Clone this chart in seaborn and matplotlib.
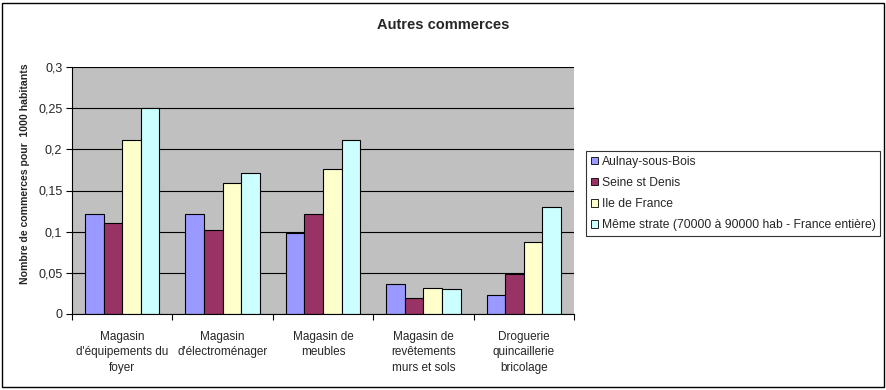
import pandas as pd
import numpy as np
import matplotlib
matplotlib.use('Agg')
import matplotlib.pyplot as plt
from matplotlib.patches import Rectangle
from matplotlib.ticker import FuncFormatter, FixedLocator
import seaborn as sns

# Data
categories = ["Magasin\nd'équipements du\nfoyer", "Magasin\nd'électroménager",
              "Magasin de\nmeubles", "Magasin de\nrevêtements\nmurs et sols",
              "Droguerie\nquincaillerie\nbricolage"]
series = ["Aulnay-sous-Bois", "Seine st Denis", "Ile de France",
          "Même strate (70000 à 90000 hab - France entière)"]
aulnay = [0.122, 0.122, 0.098, 0.036, 0.023]
seine = [0.110, 0.102, 0.122, 0.020, 0.049]
idf = [0.211, 0.159, 0.176, 0.031, 0.087]
strate = [0.250, 0.171, 0.211, 0.030, 0.130]
colors = ['#9999FF', '#993366', '#FFFFCC', '#CCFFFF']

rows = []
for name, vals in zip(series, [aulnay, seine, idf, strate]):
    for cat, v in zip(categories, vals):
        rows.append({'cat': cat, 'serie': name, 'val': v})
df = pd.DataFrame(rows)

sns.set_style('white')
plt.rcParams['font.family'] = ['Liberation Sans', 'DejaVu Sans']

fig = plt.figure(figsize=(8.87, 3.9), dpi=100)
ax = fig.add_axes([72/887, 1-314/390, (574-72)/887, (314-67)/390])

sns.barplot(data=df, x='cat', y='val', hue='serie', palette=colors,
            width=0.74, edgecolor='black', linewidth=0.8, ax=ax, saturation=1)

ax.set_facecolor('#C0C0C0')
ax.set_ylim(0, 0.3)
ax.set_xlim(-0.5, 4.5)
yt = [0, 0.05, 0.1, 0.15, 0.2, 0.25, 0.3]
ax.set_yticks(yt)
ax.yaxis.set_major_formatter(FuncFormatter(lambda v, p: ('%g' % round(v, 2)).replace('.', ',')))
ax.grid(axis='y', color='black', linewidth=0.8)
ax.set_axisbelow(True)
for s in ['top', 'right']:
    ax.spines[s].set_visible(False)
ax.spines['left'].set_color('black')
ax.spines['bottom'].set_color('black')
ax.spines['left'].set_linewidth(0.8)
ax.spines['bottom'].set_linewidth(0.8)

ax.tick_params(axis='y', direction='out', length=4, width=0.8, color='black',
               labelsize=9, left=True, pad=3)
ax.xaxis.set_minor_locator(FixedLocator(np.arange(-0.5, 5, 1)))
ax.tick_params(axis='x', which='major', length=0, labelsize=8.5, pad=12)
ax.tick_params(axis='x', which='minor', direction='out', length=4, width=0.8,
               color='black', bottom=True)
for lbl in ax.get_xticklabels():
    lbl.set_horizontalalignment('center')
    lbl.set_linespacing(1.4)

ax.set_xlabel('')
ax.set_ylabel('Nombre de commerces pour  1000 habitants', fontsize=7.6,
              fontweight='bold')
ax.yaxis.set_label_coords(-42/502, 1-(174-67)/247)

fig.text(443/887, 1-25/390, 'Autres commerces', ha='center', va='center',
         fontsize=10.5, fontweight='bold')

ax.legend_.remove()
handles = [Rectangle((0, 0), 1, 1, facecolor=c, edgecolor='black', linewidth=0.6)
           for c in colors]
leg = fig.legend(handles, series, loc='upper left',
                 bbox_to_anchor=(586/887, 1-151/390), fontsize=8.7,
                 frameon=True, fancybox=False, handlelength=0.6, handleheight=0.6,
                 handletextpad=0.3, labelspacing=0.75, borderpad=0.4,
                 borderaxespad=0)
leg.get_frame().set_edgecolor('black')
leg.get_frame().set_linewidth(0.8)

fig.patches.append(Rectangle((2/887, 3/390), 882/887, 384/390, transform=fig.transFigure,
                             fill=False, edgecolor='black', linewidth=1))

fig.savefig('out.png', dpi=100)
